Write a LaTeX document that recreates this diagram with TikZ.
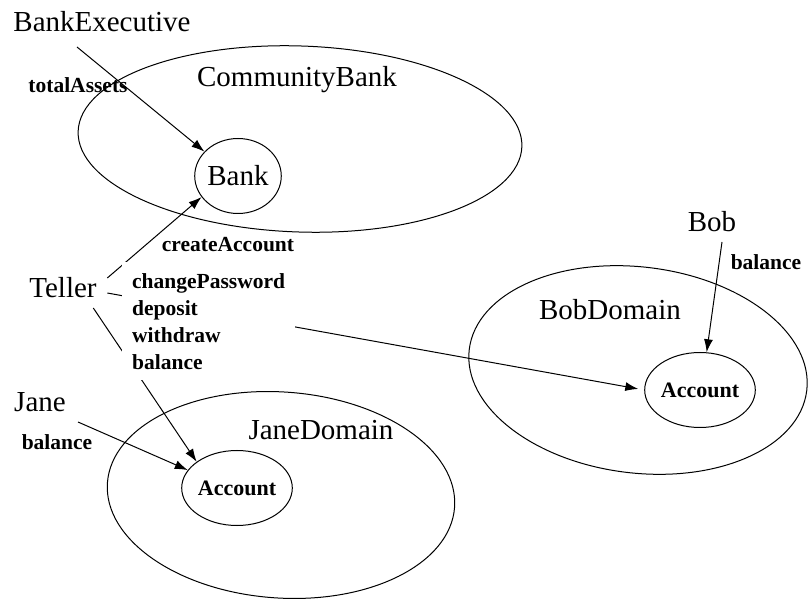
\documentclass[tikz,border=0pt]{standalone}
\usepackage{fontspec}
\setmainfont{Liberation Serif}
\usetikzlibrary{shapes.geometric,arrows.meta}
\begin{document}
\begin{tikzpicture}[x=1pt,y=-1pt,
  big/.style={font=\fontsize{29}{31}\selectfont, inner sep=0pt},
  lbl/.style={font=\bfseries\fontsize{21.5}{27}\selectfont, inner sep=0pt},
  dom/.style={draw, ellipse, inner sep=0pt, line width=1pt},
  obj/.style={draw, ellipse, inner sep=0pt, minimum width=80pt, minimum height=75pt, line width=1pt},
  conn/.style={line width=1pt, -{Latex[length=13pt,width=9pt]}},
]
\useasboundingbox (0,0) rectangle (809,601);
% domains
\node[dom, minimum width=444pt, minimum height=186pt, rotate=-2] (cbank) at (300,139) {};
\node[dom, minimum width=340pt, minimum height=206pt, rotate=-7] (bobdom) at (638,370) {};
\node[dom, minimum width=348pt, minimum height=206pt, rotate=-4] (janedom) at (281,495) {};
% domain labels
\node[big] (cbanklbl) at (297,80) {CommunityBank};
\node[big] (bobdomlbl) at (610,310) {BobDomain};
\node[big] (janedomlbl) at (321,430) {JaneDomain};
% objects
\node[obj, font=\fontsize{29}{31}\selectfont] (bank) at (238,176) {Bank};
\node[obj, font=\bfseries\fontsize{22}{27}\selectfont] (janeacc) at (237,488) {Account};
\node[obj, font=\bfseries\fontsize{22}{27}\selectfont] (bobacc) at (700,390) {Account};
% actors
\node[big] (exec) at (102,22) {BankExecutive};
\node[big] (teller) at (63,288) {Teller};
\node[big] (jane) at (40,402) {Jane};
\node[big] (bob) at (712,222) {Bob};
% connector start points
\coordinate (execout) at ([shift={(-25pt,-25pt)}]exec.center);
\coordinate (tellerA) at ([shift={(10.5pt,10pt)}]teller.east);
\coordinate (tellerB) at ([shift={(10.5pt,-5pt)}]teller.east);
\coordinate (tellerC) at ([shift={(-3.5pt,-20pt)}]teller.east);
\coordinate (janeout) at ([shift={(38pt,-20pt)}]jane.center);
\coordinate (bobout) at ([shift={(10pt,-20pt)}]bob.center);
% connectors
\draw[conn] (execout) -- (bank.144);
\draw[conn] (tellerA) -- (bank.210);
\draw[conn, shorten >=6pt] (tellerB) -- (bobacc.west);
\draw[conn] (tellerC) -- (janeacc.147);
\draw[conn] (janeout) -- (janeacc.160);
\draw[conn] (bobout) -- (bobacc.80);
% labels
\node[lbl] (ta) at (78,85) {totalAssets};
\node[lbl] (ca) at (228,245) {createAccount};
\node[lbl, fill=white, align=left, anchor=north west, inner xsep=10pt, inner ysep=11pt] (ops) at (122,262) {changePassword\\deposit\\withdraw\\balance};
\node[lbl] (janebal) at (57,442) {balance};
\node[lbl] (bobbal) at (766,262) {balance};
\end{tikzpicture}
\end{document}
